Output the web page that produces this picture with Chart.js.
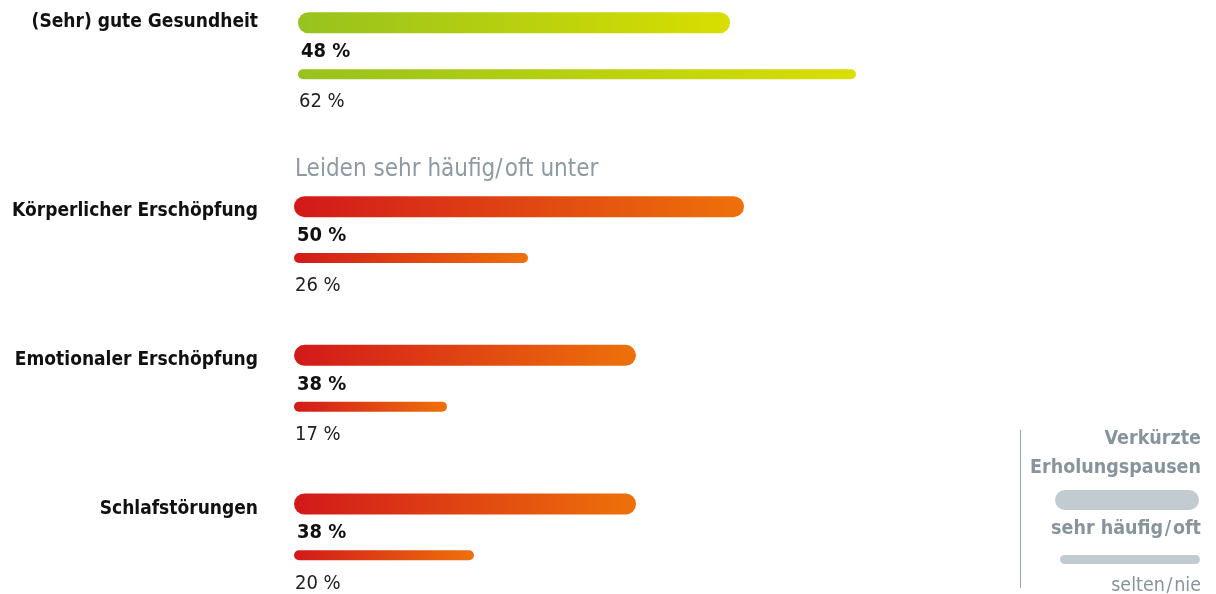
<!DOCTYPE html>
<html lang="de">
<head>
<meta charset="utf-8">
<script src="https://cdn.jsdelivr.net/npm/chart.js@4.4.1/dist/chart.umd.min.js"></script>
<style>
    html, body { margin: 0; padding: 0; background: #fff; }
    body { width: 1216px; height: 594px; position: relative; overflow: hidden;
           font-family: "Liberation Sans Narrow", "DejaVu Sans Condensed", sans-serif; }
    .box { position: absolute; left: 0; width: 1216px; }
    #topBox { top: -26px; height: 149px; }
    #bottomBox { top: 158px; height: 446px; }
    #heading { position: absolute; left: 295px; top: 154px; font-size: 24px; color: #8e9aa1; white-space: nowrap; }
    #legend { position: absolute; left: 1020px; top: 430px; width: 180px; height: 158px; border-left: 1px solid #9aa5ab; }
    #legend .t { position: absolute; right: 0; text-align: right; color: #87949b; font-size: 19.5px; white-space: nowrap; }
    #legend .b { font-weight: bold; }
    #legend .bar { position: absolute; right: 2px; background: #c2cbd0; }
</style>
</head>
<body>
<div class="box" id="topBox"><canvas id="topChart"></canvas></div>
<div class="box" id="bottomBox"><canvas id="bottomChart"></canvas></div>
<div id="heading">Leiden sehr häufig/&#8202;oft unter</div>
<div id="legend">
    <div class="t b" style="top: -4px;">Verkürzte</div>
    <div class="t b" style="top: 25px;">Erholungspausen</div>
    <div class="bar" style="top: 60px; width: 144px; height: 20px; border-radius: 10px;"></div>
    <div class="t b" style="top: 86px;">sehr häufig&#8202;/&#8202;oft</div>
    <div class="bar" style="top: 125px; width: 140px; height: 9px; border-radius: 5px; right: 1px;"></div>
    <div class="t" style="top: 143px;">selten&#8202;/&#8202;nie</div>
</div>
<script>
    // Werte aus der Grafik
    const topLabels = ["(Sehr) gute Gesundheit"];
    const topOften = [48];
    const topRarely = [62];

    const bottomLabels = ["Körperlicher Erschöpfung", "Emotionaler Erschöpfung", "Schlafstörungen"];
    const bottomOften = [50, 38, 38];
    const bottomRarely = [26, 17, 20];

    const greenColors = ["#97c21e", "#d8de00"];
    const redColors = ["#d2191a", "#ee710a"];

    const FONT = "'Liberation Sans Narrow', 'DejaVu Sans Condensed', sans-serif";

    function gradientFill(colors) {
        return function(ctx) {
            const chart = ctx.chart;
            if (!chart.chartArea || ctx.type !== "data") return colors[0];
            const x = chart.scales.x;
            const x0 = x.getPixelForValue(0);
            const x1 = x.getPixelForValue(ctx.raw);
            const g = chart.ctx.createLinearGradient(x0, 0, x1, 0);
            g.addColorStop(0, colors[0]);
            g.addColorStop(1, colors[1]);
            return g;
        };
    }

    // Prozentwerte unter den Balken
    const valueLabels = {
        id: "valueLabels",
        afterDatasetsDraw(chart) {
            const ctx = chart.ctx;
            ctx.save();
            ctx.textBaseline = "middle";
            ctx.textAlign = "left";
            chart.data.datasets.forEach((ds, i) => {
                const meta = chart.getDatasetMeta(i);
                const bold = i === 0;
                ctx.font = (bold ? "bold " : "") + "20px " + FONT;
                ctx.fillStyle = bold ? "#111" : "#222";
                meta.data.forEach((bar, j) => {
                    ctx.fillText(ds.data[j] + " %", bar.base + (bold ? 3 : 1), bar.y + (bold ? 29 : 28));
                });
            });
            ctx.restore();
        }
    };

    function makeChart(id, labels, often, rarely, colors, left, labelOffset) {
        return new Chart(document.getElementById(id), {
            type: "bar",
            data: {
                labels: labels,
                datasets: [
                    {
                        label: "sehr häufig/oft",
                        data: often,
                        backgroundColor: gradientFill(colors),
                        maxBarThickness: 21,
                        borderRadius: 11,
                        borderSkipped: false,
                        barPercentage: 1,
                        categoryPercentage: 0.69
                    },
                    {
                        label: "selten/nie",
                        data: rarely,
                        backgroundColor: gradientFill(colors),
                        maxBarThickness: 10,
                        borderRadius: 5,
                        borderSkipped: false,
                        barPercentage: 1,
                        categoryPercentage: 0.69
                    }
                ]
            },
            options: {
                indexAxis: "y",
                responsive: true,
                maintainAspectRatio: false,
                animation: false,
                layout: { padding: { left: 0, right: 1216 - left - 900, top: 0, bottom: 0 } },
                plugins: {
                    legend: { display: false },
                    tooltip: { enabled: false }
                },
                scales: {
                    x: {
                        display: false,
                        min: 0,
                        max: 100
                    },
                    y: {
                        afterFit(scale) {
                            scale.width = left;
                            scale.paddingTop = 0;
                            scale.paddingBottom = 0;
                        },
                        grid: { display: false, drawTicks: false },
                        border: { display: false },
                        ticks: {
                            padding: left - 258,
                            labelOffset: labelOffset,
                            color: "#111",
                            font: { family: FONT, size: 19, weight: "bold" }
                        }
                    }
                }
            },
            plugins: [valueLabels]
        });
    }

    makeChart("topChart", topLabels, topOften, topRarely, greenColors, 298, -26);
    makeChart("bottomChart", bottomLabels, bottomOften, bottomRarely, redColors, 294, -21);
</script>
</body>
</html>
